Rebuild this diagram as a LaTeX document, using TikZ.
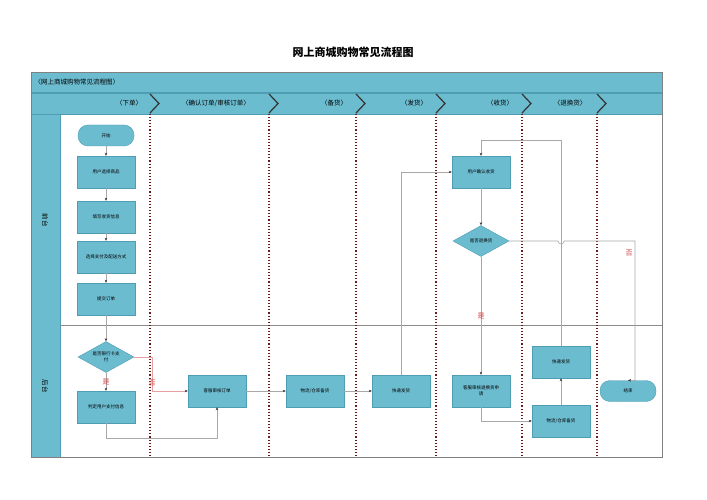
\documentclass[tikz,border=0pt]{standalone}
\usepackage{fontspec}
\setmainfont{Noto Sans CJK SC}
\usetikzlibrary{shapes.geometric,arrows.meta}
\definecolor{teal1}{HTML}{6CBCD0}
\definecolor{teal2}{HTML}{4F9DB2}
\definecolor{dred}{HTML}{6B1A1A}
\definecolor{lgray}{HTML}{A8A8A8}
\definecolor{lab}{HTML}{D04040}
\begin{document}
\begin{tikzpicture}[x=1pt,y=-1pt,
 box/.style={draw=teal2,fill=teal1,minimum width=58pt,minimum height=32pt,align=center,font=\fontsize{4.5}{5.5}\selectfont,text width=52pt,inner sep=1pt},
 pill/.style={draw=teal2,fill=teal1,rounded corners=10pt,minimum width=56pt,minimum height=21pt,font=\fontsize{4.5}{5.5}\selectfont},
 dia/.style={draw=teal2,fill=teal1,diamond,aspect=1.8,minimum width=56pt,minimum height=31pt,inner sep=0pt,align=center,font=\fontsize{4.5}{5.5}\selectfont},
 conn/.style={draw=lgray,line width=0.6pt,-{Stealth[length=3pt,width=2.5pt,black!80]}},
 lane/.style={draw=dred,line width=1.1pt,dotted},
 chev/.style={draw=black!80,line width=1.2pt},
 hd/.style={font=\fontsize{6.5}{7}\selectfont},
 yl/.style={text=lab,font=\fontsize{7}{8}\selectfont}]
\useasboundingbox (0,0) rectangle (707,500);
\node[font=\bfseries\fontsize{11}{12}\selectfont] (title) at (353,52) {网上商城购物常见流程图};
% frames
\fill[white] (31,72) rectangle (662,457);
\draw[teal2,fill=teal1] (31,72) rectangle (662,92);
\draw[teal2,fill=teal1] (31,93) rectangle (662,114);
\draw[teal2,fill=teal1] (31,114) rectangle (60,457);
\draw[black!50] (31,72) rectangle (662,457);
\draw[black!45] (60,325) -- (662,325);
\node[hd,anchor=west] (h0) at (31,82) {〈网上商城购物常见流程图〉};
\node[hd] (h1) at (129,103.5) {〈下单〉};
\node[hd] (h2) at (216,103.5) {〈确认订单/审核订单〉};
\node[hd] (h3) at (334,103.5) {〈备货〉};
\node[hd] (h4) at (414,103.5) {〈发货〉};
\node[hd] (h5) at (500,103.5) {〈收货〉};
\node[hd] (h6) at (570,103.5) {〈退换货〉};
\node[hd,rotate=-90] (r1) at (45,220) {前台};
\node[hd,rotate=-90] (r2) at (45,386) {后台};
\foreach \x in {150,269,356,436,522,597}{
 \draw[chev] (\x,94) -- (\x+9,103.5) -- (\x,113);
 \draw[lane] (\x,114) -- (\x,457);}
% nodes
\node[pill] (start) at (106,135.5) {开始};
\node[box] (n1) at (106,172) {用户选择商品};
\node[box] (n2) at (106,217) {填写收货信息};
\node[box] (n3) at (106,257) {选择支付及配送方式};
\node[box] (n4) at (106,299) {提交订单};
\node[dia] (d1) at (106,357) {是否银行卡支\\付};
\node[box] (n5) at (106,407) {判定用户支付信息};
\node[box] (n6) at (217,391) {客服审核订单};
\node[box] (n7) at (315,391) {物流/仓库备货};
\node[box] (n8) at (401,391) {快递发货};
\node[box] (n9) at (481,172) {用户确认收货};
\node[dia] (d2) at (481,241) {是否退换货};
\node[box] (n10) at (481,391) {客服审核退换货申\\请};
\node[box] (n11) at (561,362) {快递发货};
\node[box] (n12) at (561,421) {物流/仓库备货};
\node[pill] (end) at (628,391) {结束};
% connectors
\draw[conn] (start) -- (n1);
\draw[conn] (n1) -- (n2);
\draw[conn] (n2) -- (n3);
\draw[conn] (n3) -- (n4);
\draw[conn] (n4) -- (d1);
\draw[conn] (d1) -- (n5);
\node[yl] (yes1) at (106,382) {是};
\draw[conn,draw=lab!50] (d1.east) -- (152,357) -- (152,391) -- (n6.west);
\node[yl] (no1) at (152,383) {否};
\draw[conn] (n5.south) -- (106,438) -- (217,438) -- (n6.south);
\draw[conn] (n6) -- (n7);
\draw[conn] (n7) -- (n8);
\draw[conn] (n8.north) -- (401,172) -- (n9.west);
\draw[conn] (n9) -- (d2);
\draw[conn] (d2) -- (n10);
\node[yl] (yes2) at (481,316) {是};
\draw[conn] (n10.south) -- (481,421) -- (n12.west);
\draw[conn] (n12) -- (n11);
\draw[conn] (n11.north) -- (561,140) -- (481,140) -- (n9.north);
\draw[conn] (d2.east) -- (558,241) arc[start angle=180,end angle=0,radius=3] -- (635,241) -- (635,391-10.5) -- (end.north);
\node[yl] (no2) at (629,253) {否};
\end{tikzpicture}
\end{document}
